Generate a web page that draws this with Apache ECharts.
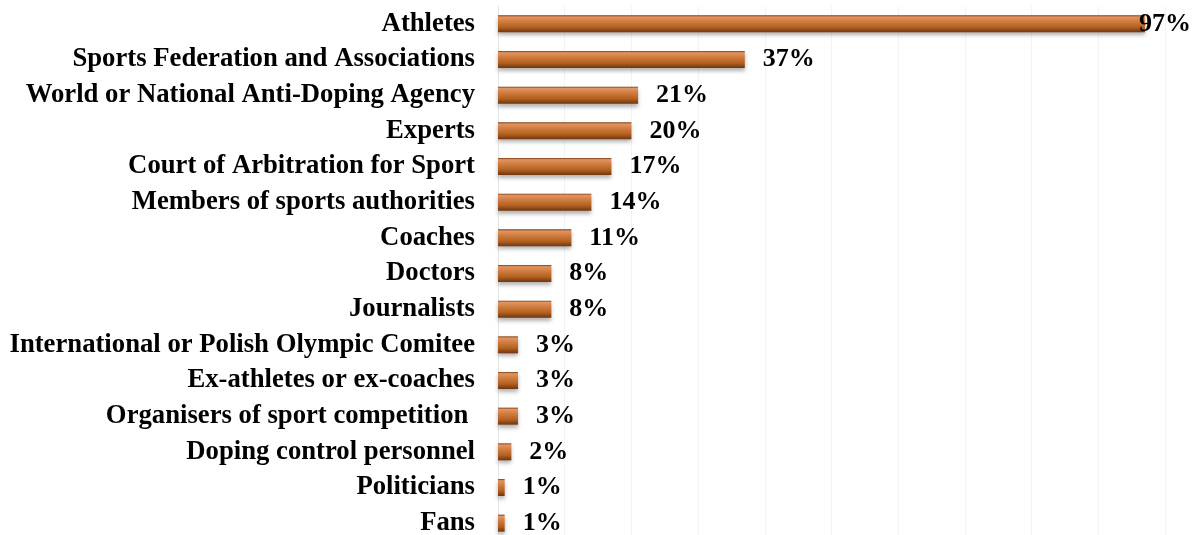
<!DOCTYPE html>
<html>
<head>
<meta charset="utf-8">
<script src="https://cdn.jsdelivr.net/npm/echarts@6/dist/echarts.min.js"></script>
<style>
  html, body { margin: 0; padding: 0; background: #fff; }
  #chart { width: 1194px; height: 535px; }
</style>
</head>
<body>
<div id="chart"></div>
<script>
// categories, top to bottom as in the picture
const categories = [
  'Athletes',
  'Sports Federation and Associations',
  'World or National Anti-Doping Agency',
  'Experts',
  'Court of Arbitration for Sport',
  'Members of sports authorities',
  'Coaches',
  'Doctors',
  'Journalists',
  'International or Polish Olympic Comitee',
  'Ex-athletes or ex-coaches',
  'Organisers of sport competition ',
  'Doping control personnel',
  'Politicians',
  'Fans'
]
const values = [97, 37, 21, 20, 17, 14, 11, 8, 8, 3, 3, 3, 2, 1, 1]

let myChart = echarts.init(document.getElementById('chart'))

const barColor = new echarts.graphic.LinearGradient(0, 0, 0, 1, [
  { offset: 0, color: '#7a3c12' },
  { offset: 0.1, color: '#e39560' },
  { offset: 0.35, color: '#d07d42' },
  { offset: 0.7, color: '#b3611f' },
  { offset: 1, color: '#6f3510' }
])

// ECharts draws category axis bottom-up, so reverse
const cats = categories.slice().reverse()
const data = values.slice().reverse().map((v, i) => {
  let item = { value: v }
  if (i === values.length - 1) {
    // the top label sits over the end of the bar
    item.label = { offset: [-24, 0] }
  }
  return item
})

const option = {
  animation: false,
  grid: {
    left: 498,
    right: 29,
    top: 6,
    height: 535,
    outerBoundsMode: 'none',
    containLabel: false
  },
  xAxis: {
    type: 'value',
    min: 0,
    max: 100,
    interval: 10,
    axisLabel: { show: false },
    axisLine: { show: false },
    axisTick: { show: false },
    splitLine: {
      show: true,
      lineStyle: { color: '#f3f3f3', width: 1 }
    }
  },
  yAxis: {
    type: 'category',
    data: cats,
    axisLine: { show: true, lineStyle: { color: '#e6e6e6' } },
    axisTick: { show: false },
    axisLabel: {
      margin: 23,
      color: '#000',
      fontFamily: 'Liberation Serif',
      fontWeight: 'bold',
      fontSize: 26.7,
      padding: [9, 0, 0, 0]
    }
  },
  series: [
    {
      type: 'bar',
      data: data,
      barWidth: 17,
      itemStyle: {
        color: barColor,
        shadowColor: 'rgba(0,0,0,0.3)',
        shadowBlur: 4,
        shadowOffsetY: 3
      },
      label: {
        show: true,
        position: 'right',
        distance: 18,
        formatter: '{c}%',
        color: '#000',
        fontFamily: 'Liberation Serif',
        fontWeight: 'bold',
        fontSize: 26,
        padding: [9, 0, 0, 0]
      }
    }
  ]
}
myChart.setOption(option)
</script>
</body>
</html>
